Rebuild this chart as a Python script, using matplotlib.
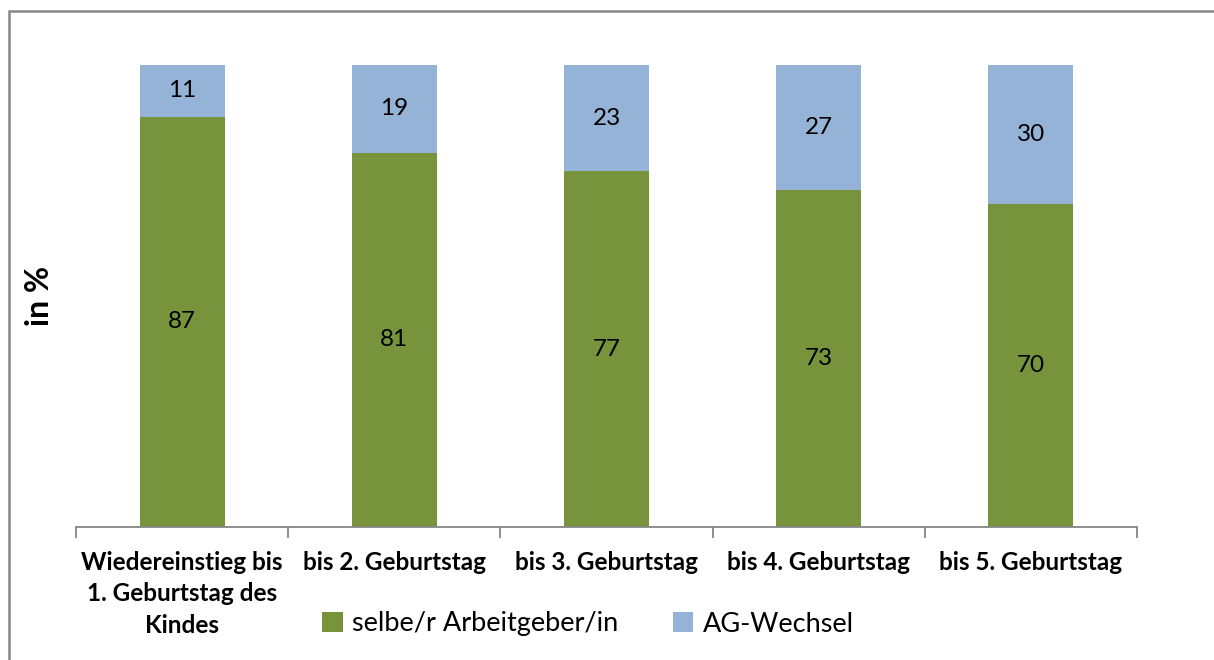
import numpy as np
import matplotlib.pyplot as plt
from matplotlib.patches import Rectangle

# Data (values as printed on the bars)
categories = ['Wiedereinstieg bis\n1. Geburtstag des\nKindes', 'bis 2. Geburtstag',
              'bis 3. Geburtstag', 'bis 4. Geburtstag', 'bis 5. Geburtstag']
same_employer = [87, 81, 77, 73, 70]
employer_change = [11, 19, 23, 27, 30]
series_names = ['selbe/r Arbeitgeber/in', 'AG-Wechsel']

green = '#77933C'
blue = '#95B3D7'
grey = '#868686'

plt.rcParams['font.family'] = ['Lato', 'DejaVu Sans']

fig = plt.figure(figsize=(12.14, 6.6), dpi=100)
ax = fig.add_axes([76 / 1214, 1 - 527 / 660, (1137 - 76) / 1214, (527 - 65) / 660])

same = np.array(same_employer, dtype=float)
change = np.array(employer_change, dtype=float)
total = same + change
# 100% stacked: shares of each bar total
same_pct = same / total * 100
change_pct = change / total * 100

x = np.arange(len(categories))
w = 0.4
ax.bar(x, same_pct, width=w, color=green, label=series_names[0])
ax.bar(x, change_pct, width=w, bottom=same_pct, color=blue, label=series_names[1])

for i in range(len(x)):
    ax.text(x[i], same_pct[i] / 2, f'{same_employer[i]}', ha='center', va='center',
            fontsize=17.5, color='black')
    ax.text(x[i], same_pct[i] + change_pct[i] / 2, f'{employer_change[i]}', ha='center',
            va='center', fontsize=17.5, color='black')

ax.set_xlim(-0.5, len(x) - 0.5)
ax.set_ylim(0, 100)
ax.set_yticks([])
for s in ['top', 'right', 'left']:
    ax.spines[s].set_visible(False)
ax.spines['bottom'].set_color(grey)
ax.spines['bottom'].set_linewidth(1.3)

ax.set_xticks(x)
ax.set_xticklabels(categories, fontsize=17.5, fontweight='bold', linespacing=1.45)
ax.tick_params(axis='x', which='major', length=0, pad=17)
ax.set_xticks(np.arange(len(x) + 1) - 0.5, minor=True)
ax.tick_params(axis='x', which='minor', length=8, color=grey, width=1.3)

ax.set_ylabel('in %', fontsize=23, fontweight='bold', labelpad=16)

ax.legend(loc='center', bbox_to_anchor=(588 / 1214, 1 - 624 / 660),
          bbox_transform=fig.transFigure, ncol=2, frameon=False, fontsize=19.5,
          handlelength=0.75, handleheight=0.75, handletextpad=0.35, columnspacing=2.0)

# outer chart border (cropped on right and bottom)
fig.patches.append(Rectangle((9 / 1214, -0.1), 1.2, 1 - 11 / 660 + 0.1,
                             transform=fig.transFigure, fill=False,
                             edgecolor=grey, linewidth=1.8))

fig.savefig('out.png', dpi=100)
